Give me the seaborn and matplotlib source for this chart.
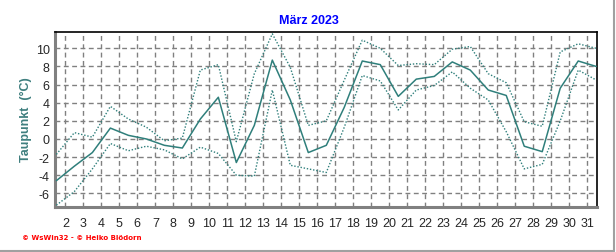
import matplotlib
matplotlib.use("Agg")
import matplotlib.pyplot as plt
from matplotlib.lines import Line2D
from matplotlib.ticker import MultipleLocator, FixedLocator
import seaborn as sns
import pandas as pd
import numpy as np

days = list(range(1, 32))
dew_mean = [-4.6, -3.0, -1.5, 1.2, 0.4, 0.0, -0.7, -1.0, 2.2, 4.6,
            -2.6, 1.5, 8.7, 4.3, -1.5, -0.7, 3.5, 8.6, 8.2, 4.7,
            6.6, 6.9, 8.5, 7.6, 5.4, 4.8, -0.8, -1.4, 5.6, 8.6, 8.0]
dew_max = [-1.7, 0.7, 0.2, 3.6, 2.2, 1.3, -0.2, 0.1, 7.6, 8.2,
           -0.3, 7.2, 11.6, 7.9, 1.5, 2.0, 6.5, 10.9, 10.0, 8.1,
           8.3, 8.2, 9.9, 10.2, 7.2, 6.2, 1.9, 1.4, 9.6, 10.5, 10.0]
dew_min = [-7.3, -5.8, -3.3, -0.5, -1.3, -0.8, -1.2, -2.2, -0.9, -1.6,
           -4.0, -4.1, 5.4, -2.9, -3.3, -3.7, 1.3, 7.0, 6.4, 3.2,
           5.4, 5.9, 7.4, 5.6, 4.3, 0.8, -3.3, -2.8, 2.0, 7.6, 6.5]
x_tick_days = list(range(2, 32))
y_ticks = [-6, -4, -2, 0, 2, 4, 6, 8, 10]
title = "März 2023"
ylabel = "Taupunkt  (°C)"
credit = "© WsWin32 - © Heiko Blödorn"

sns.set_style("white")
plt.rcParams['font.family'] = ['Liberation Sans', 'DejaVu Sans']

df = pd.DataFrame({"pos": np.array(days) + 0.5, "mean": dew_mean,
                   "max": dew_max, "min": dew_min})

W, H = 616, 253
fig = plt.figure(figsize=(W / 100, H / 100), dpi=100)
L, R, T, B = 55.3, 597.3, 33.0, 207.5
ax = fig.add_axes([L / W, 1 - B / H, (R - L) / W, (B - T) / H])

col = "#2f7f7b"
sns.lineplot(data=df, x="pos", y="max", ax=ax, color=col, lw=1.0,
             linestyle=(0, (1, 1.3)), zorder=3)
sns.lineplot(data=df, x="pos", y="min", ax=ax, color=col, lw=1.0,
             linestyle=(0, (1, 1.3)), zorder=3)
sns.lineplot(data=df, x="pos", y="mean", ax=ax, color=col, lw=1.1, zorder=4)

ax.set_xlim(1.44, 31.56)
ax.set_ylim(-7.45, 11.8)

ax.xaxis.set_major_locator(FixedLocator(x_tick_days))
ax.set_xticklabels([str(d) for d in x_tick_days])
ax.xaxis.set_minor_locator(MultipleLocator(1 / 6))
ax.yaxis.set_major_locator(FixedLocator(y_ticks))
ax.set_yticklabels([str(v) for v in y_ticks])
ax.yaxis.set_minor_locator(MultipleLocator(1))

ax.grid(True, which="major", color="#808080", lw=1.0, linestyle=(0, (3.5, 2.5)))
ax.set_axisbelow(True)

ax.tick_params(axis="x", which="both", direction="out", length=2.5, width=0.8,
               color="#808080", labelsize=9, pad=5)
ax.tick_params(axis="y", which="both", direction="in", length=2.5, width=0.8,
               color="#808080", labelsize=9, pad=4)

for s in ["top", "right"]:
    ax.spines[s].set_color("black")
    ax.spines[s].set_linewidth(1.2)
for s in ["left", "bottom"]:
    ax.spines[s].set_color("#808080")
    ax.spines[s].set_linewidth(2.2)

ax.set_xlabel("")
ax.set_ylabel("")

fig.text(309 / W, 1 - 20.5 / H, title, color="#0000ff", fontsize=9,
         fontweight="bold", ha="center", va="center")
fig.text(26 / W, 1 - 120 / H, ylabel, color="#3f7f7f", fontsize=9,
         fontweight="bold", rotation=90, ha="center", va="center")
fig.text(22 / W, 1 - 238.5 / H, credit, color="#ff0000", fontsize=5,
         fontweight="bold", ha="left", va="center", family=["DejaVu Sans"])

fig.add_artist(Line2D([613.5 / W, 613.5 / W], [1 - 251.5 / H, 1], color="#a0a0a0", lw=1.5))
fig.add_artist(Line2D([0, 613.5 / W], [1 - 251.5 / H, 1 - 251.5 / H], color="#a0a0a0", lw=1.5))

fig.savefig("out.png", dpi=100)
